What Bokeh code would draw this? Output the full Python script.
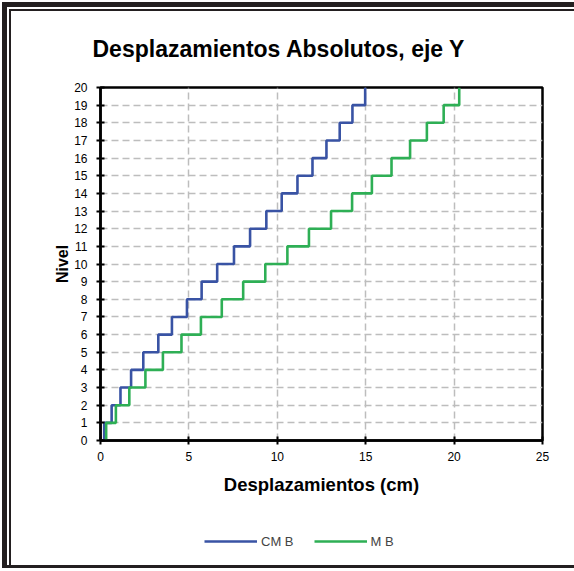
from bokeh.plotting import figure
from bokeh.layouts import column
from bokeh.models import Legend, LegendItem, FixedTicker, Title, Range1d
from bokeh.embed import file_html
from bokeh.resources import INLINE

levels = list(range(1, 21))
cm_b = [0.21, 0.63, 1.13, 1.73, 2.42, 3.27, 4.04, 4.89, 5.72, 6.60,
        7.55, 8.46, 9.38, 10.25, 11.14, 11.99, 12.78, 13.53, 14.25, 14.97]
m_b = [0.32, 0.87, 1.63, 2.54, 3.53, 4.58, 5.68, 6.86, 8.07, 9.32,
       10.57, 11.79, 13.04, 14.23, 15.35, 16.46, 17.51, 18.46, 19.41, 20.29]
x_ticks = [0, 5, 10, 15, 20, 25]
y_ticks = list(range(0, 21))
series_names = ["CM B", "M B"]
series_colors = ["#3953a4", "#2eaf55"]

FONT = "Liberation Sans"


def step_path(vals, lev):
    xs, ys = [], []
    for d, L in zip(vals, lev):
        xs += [d, d]
        ys += [L - 1, L]
    return xs, ys


W = 572
H_MAIN = 500
H_LEG = 66

p = figure(width=W, height=H_MAIN, output_backend="svg", toolbar_location=None,
           x_range=Range1d(0, 25), y_range=Range1d(0, 20),
           min_border_left=98, min_border_right=32, min_border_top=85,
           min_border_bottom=H_MAIN - 438)
p.border_fill_alpha = 0

p.title = Title(text="Desplazamientos Absolutos, eje Y", align="left",
                offset=-8, text_font=FONT, text_font_size="23px",
                text_font_style="bold", text_color="black", standoff=52)

p.outline_line_color = "black"
p.outline_line_width = 2.5
p.outline_line_alpha = 1

for ax in (p.xaxis[0], p.yaxis[0]):
    ax.axis_line_color = "black"
    ax.axis_line_width = 2.5
    ax.major_tick_line_color = "black"
    ax.major_tick_line_width = 2
    ax.major_tick_in = 4
    ax.major_tick_out = 4
    ax.minor_tick_line_color = None
    ax.major_label_text_font = FONT
    ax.major_label_text_font_size = "12px"
    ax.major_label_text_color = "black"
    ax.axis_label_text_font = FONT
    ax.axis_label_text_font_style = "bold"
    ax.axis_label_text_color = "black"

p.xaxis.ticker = FixedTicker(ticks=x_ticks)
p.yaxis.ticker = FixedTicker(ticks=y_ticks)
p.xaxis.axis_label = "Desplazamientos (cm)"
p.yaxis.axis_label = "Nivel"
p.xaxis.axis_label_text_font_size = "18.5px"
p.yaxis.axis_label_text_font_size = "16px"
p.xaxis.major_label_standoff = 7
p.yaxis.major_label_standoff = 9
p.xaxis.axis_label_standoff = 10
p.yaxis.axis_label_standoff = 0

for g in (p.xgrid[0], p.ygrid[0]):
    g.grid_line_color = "#bdbdbd"
    g.grid_line_width = 1.5
    g.grid_line_dash = "7 4"
p.xgrid.ticker = FixedTicker(ticks=x_ticks)
p.ygrid.ticker = FixedTicker(ticks=y_ticks)

bx, by = step_path(cm_b, levels)
gx, gy = step_path(m_b, levels)
p.line(bx, by, line_color=series_colors[0], line_width=2.6)
p.line(gx, gy, line_color=series_colors[1], line_width=2.6)

# legend strip below the chart
pl = figure(width=W, height=H_LEG, output_backend="svg", toolbar_location=None,
            x_range=Range1d(0, 1), y_range=Range1d(0, 1),
            min_border=0)
pl.axis.visible = False
pl.grid.visible = False
pl.outline_line_color = None
pl.border_fill_alpha = 0
pl.background_fill_alpha = 0
items = []
for name, col in zip(series_names, series_colors):
    r = pl.line([-10, -9], [-10, -9], line_color=col, line_width=2.6)
    items.append(LegendItem(label=name, renderers=[r]))
legend = Legend(items=items, orientation="horizontal", location=(104, 17),
                padding=0, margin=0, spacing=20, glyph_width=53,
                glyph_height=20, label_height=20, label_standoff=4,
                label_text_font=FONT, label_text_font_size="13px",
                border_line_color=None, background_fill_alpha=0)
pl.add_layout(legend)

layout = column(p, pl, spacing=0)
layout.margin = (2, 0, 0, 2)
BC = "linear-gradient(#231f20,#231f20)"
layout.styles = {
    "background": (f"{BC} 0px 0px / 5px 100% no-repeat, "
                   f"{BC} 0px 0px / 100% 5px no-repeat, "
                   f"{BC} 7px 7px / 2px 100% no-repeat, "
                   f"{BC} 7px 7px / 100% 2px no-repeat, "
                   f"{BC} 0px 100% / 100% 3px no-repeat, #ffffff"),
}

open("out.html", "w").write(file_html(layout, INLINE))
